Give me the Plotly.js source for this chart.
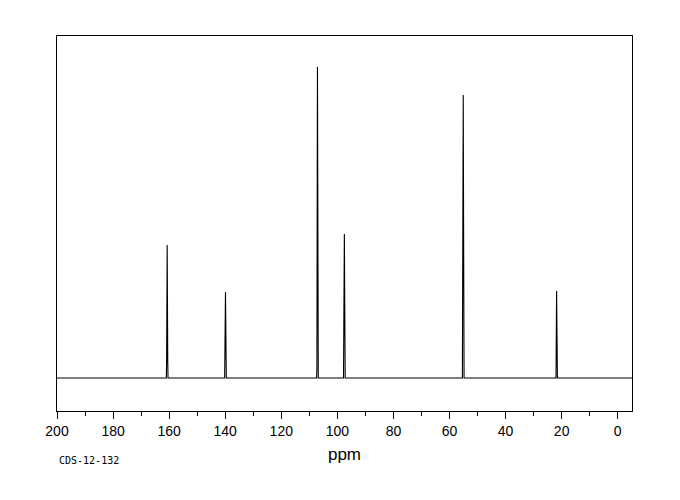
<!DOCTYPE html>
<html>
<head>
<meta charset="utf-8">
<script src="https://cdn.plot.ly/plotly-3.0.1.min.js"></script>
<style>html,body{margin:0;padding:0;background:#fff;}#chart{width:680px;height:500px;}</style>
</head>
<body>
<div id="chart"></div>
<script>
// Peak positions (ppm), relative heights (%), and the heights of the thicker base part
const peakPpm = [160.7, 139.9, 107.1, 97.5, 55.1, 21.8];
const peakHeight = [42.8, 27.7, 100.0, 46.3, 91.0, 28.0];
const peakBase = [5.5, 8.4, 2.9, 14.1, 27.7, 0];
const tickVals = [200, 180, 160, 140, 120, 100, 80, 60, 40, 20, 0];
const tickText = ["200", "180", "160", "140", "120", "100", "80", "60", "40", "20", "0"];
const sampleId = "CDS-12-132";

const xs = [210];
const ys = [0];
peakPpm.forEach((p, i) => {
  xs.push(p + 0.3, p + 0.2, p, p - 0.2, p - 0.3);
  ys.push(0, peakBase[i], peakHeight[i], peakBase[i], 0);
});
xs.push(-10);
ys.push(0);

const trace = {
  x: xs, y: ys, type: 'scatter', mode: 'lines',
  line: {color: '#000', width: 1.1},
  hoverinfo: 'skip'
};

const layout = {
  width: 680, height: 500,
  margin: {l: 57, r: 48, t: 36, b: 89},
  paper_bgcolor: '#fff', plot_bgcolor: '#fff',
  showlegend: false,
  xaxis: {
    range: [200, -5.1],
    showgrid: false, zeroline: false,
    showline: true, mirror: true, linecolor: '#000', linewidth: 1,
    ticks: 'outside', ticklen: 7, tickwidth: 1, tickcolor: '#000',
    tickmode: 'array', tickvals: tickVals, ticktext: tickText,
    minor: {dtick: 10, ticks: 'outside', ticklen: 4, tickwidth: 1, tickcolor: '#000', showgrid: false},
    tickfont: {family: 'Liberation Sans, Arial, sans-serif', size: 14, color: '#000'},
    title: {text: 'ppm', font: {family: 'Liberation Sans, Arial, sans-serif', size: 17, color: '#000'}, standoff: 10}
  },
  yaxis: {
    range: [-10.6, 110.0],
    showgrid: false, zeroline: false,
    showline: true, mirror: true, linecolor: '#000', linewidth: 1,
    ticks: '', showticklabels: false
  },
  annotations: [{
    text: sampleId, xref: 'paper', yref: 'paper',
    x: 0, y: -0.133, xanchor: 'left', yanchor: 'middle', showarrow: false,
    font: {family: 'DejaVu Sans Mono, monospace', size: 10, color: '#000'}
  }]
};

Plotly.newPlot('chart', [trace], layout, {staticPlot: true});
</script>
</body>
</html>
